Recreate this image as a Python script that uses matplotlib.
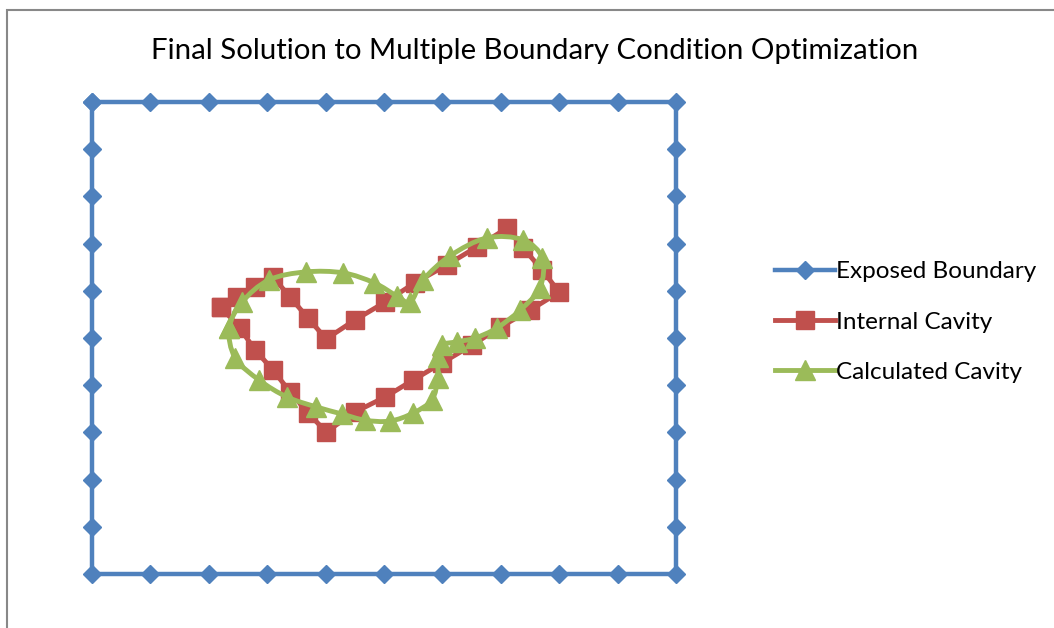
import matplotlib
matplotlib.use("Agg")
import matplotlib.pyplot as plt
import numpy as np
from matplotlib.path import Path
from matplotlib.patches import PathPatch, Rectangle
from matplotlib.lines import Line2D

plt.rcParams['font.family'] = ['Lato', 'DejaVu Sans']

# exposed boundary: square 0..10, one point per unit
bx = [0, 1, 2, 3, 4, 5, 6, 7, 8, 9, 10, 10, 10, 10, 10, 10, 10, 10, 10, 10, 10,
      9, 8, 7, 6, 5, 4, 3, 2, 1, 0, 0, 0, 0, 0, 0, 0, 0, 0, 0, 0]
by = [10, 10, 10, 10, 10, 10, 10, 10, 10, 10, 10, 9, 8, 7, 6, 5, 4, 3, 2, 1, 0,
      0, 0, 0, 0, 0, 0, 0, 0, 0, 0, 1, 2, 3, 4, 5, 6, 7, 8, 9, 10]

# internal cavity (true shape)
cx = [2.21, 2.48, 2.79, 3.10, 3.39, 3.70, 4.01, 4.50, 5.02, 5.53, 6.08, 6.59,
      7.11, 7.38, 7.71, 8.00, 7.50, 6.99, 6.51, 5.99, 5.50, 5.02, 4.50, 4.01,
      3.70, 3.39, 3.10, 2.79, 2.53, 2.21]
cy = [5.66, 5.87, 6.08, 6.29, 5.87, 5.42, 4.98, 5.38, 5.76, 6.17, 6.55, 6.93,
      7.33, 6.91, 6.44, 5.97, 5.59, 5.23, 4.85, 4.47, 4.11, 3.75, 3.43, 3.01,
      3.41, 3.86, 4.32, 4.75, 5.21, 5.66]

# calculated cavity
gx = [2.35, 2.57, 3.03, 3.66, 4.30, 4.83, 5.22, 5.45, 5.67, 6.13, 6.76, 7.38,
      7.71, 7.67, 7.33, 6.93, 6.56, 6.25, 5.99, 5.92, 5.92, 5.82, 5.50, 5.10,
      4.67, 4.28, 3.84, 3.34, 2.86, 2.45, 2.35]
gy = [5.21, 5.76, 6.23, 6.40, 6.38, 6.17, 5.89, 5.76, 6.23, 6.74, 7.12, 7.08,
      6.69, 6.06, 5.59, 5.21, 5.00, 4.92, 4.85, 4.60, 4.15, 3.69, 3.41, 3.24,
      3.26, 3.39, 3.54, 3.75, 4.11, 4.58, 5.21]

blue = '#4F81BD'
red = '#C0504D'
green = '#9BBB59'


def smooth_path(xs, ys, t=0.5):
    # catmull-rom style bezier through the points (drawing only)
    pts = np.column_stack([xs, ys])
    n = len(pts)
    verts = [pts[0]]
    codes = [Path.MOVETO]
    for i in range(n - 1):
        p0 = pts[i - 1] if i > 0 else pts[-2]
        p1 = pts[i]
        p2 = pts[i + 1]
        p3 = pts[i + 2] if i + 2 < n else pts[1]
        c1 = p1 + (p2 - p0) * t / 3
        c2 = p2 - (p3 - p1) * t / 3
        verts += [c1, c2, p2]
        codes += [Path.CURVE4] * 3
    return Path(verts, codes)


fig = plt.figure(figsize=(10.54, 6.28), dpi=100)
fig.patches.append(Rectangle((7 / 1054, -0.1), 1.2, (628 - 10) / 628 + 0.1,
                             transform=fig.transFigure, fill=False,
                             edgecolor='#888888', linewidth=1.5))

ax = fig.add_axes([92 / 1054, 54 / 628, 584 / 1054, 472 / 628])
ax.set_xlim(0, 10)
ax.set_ylim(0, 10)
ax.axis('off')

ax.plot(bx, by, color=blue, lw=3.2, marker='D', ms=9.5, mec=blue,
        clip_on=False, zorder=2)
ax.plot(cx, cy, color=red, lw=3.5, marker='s', ms=13, mec=red,
        clip_on=False, zorder=3)
ax.add_patch(PathPatch(smooth_path(gx, gy), fill=False, edgecolor=green,
                       lw=3.5, zorder=4, capstyle='round'))
ax.plot(gx, gy, color=green, lw=0, marker='^', ms=14.5, mec=green,
        clip_on=False, zorder=5)

handles = [
    Line2D([], [], color=blue, lw=3.2, marker='D', ms=9.5, mec=blue),
    Line2D([], [], color=red, lw=3.5, marker='s', ms=13, mec=red),
    Line2D([], [], color=green, lw=3.5, marker='^', ms=14.5, mec=green),
]
labels = ['Exposed Boundary', 'Internal Cavity', 'Calculated Cavity']
fig.legend(handles, labels, loc='center left',
           bbox_to_anchor=(775 / 1054, (628 - 322) / 628),
           frameon=False, fontsize=17.5, handlelength=2.47, handletextpad=0.05,
           labelspacing=1.2, borderpad=0, borderaxespad=0, numpoints=1)

fig.text(535 / 1054, 1 - 51 / 628,
         'Final Solution to Multiple Boundary Condition Optimization',
         ha='center', va='center', fontsize=21.2)

fig.savefig('out.png', dpi=100)
